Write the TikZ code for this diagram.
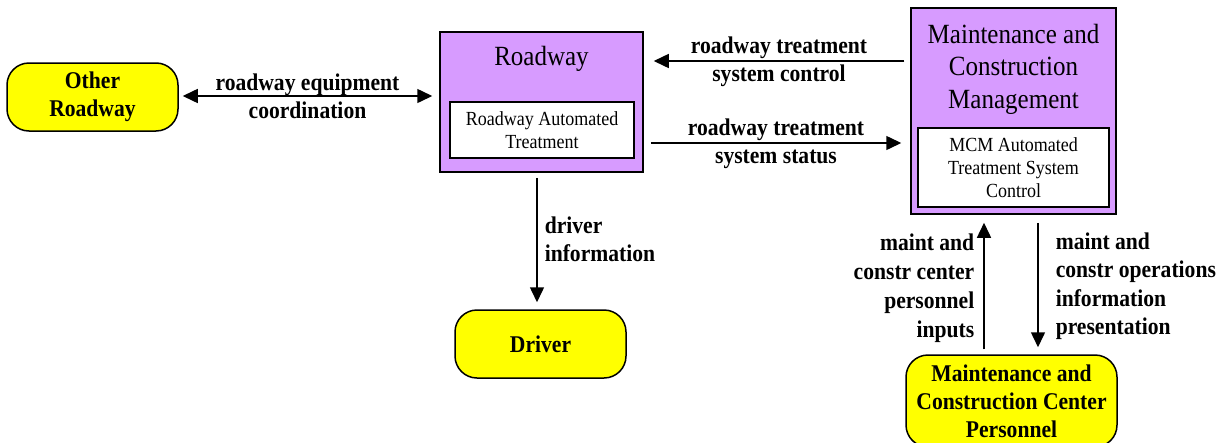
\documentclass[tikz,border=0pt]{standalone}
\usepackage{fontspec}
\setmainfont{Liberation Serif}[FakeStretch=0.9]
\usetikzlibrary{arrows.meta,calc}
\definecolor{elemPurple}{RGB}{215,155,255}
\definecolor{termYellow}{RGB}{255,255,0}
\tikzset{
  x=1pt, y=-1pt,
  lbl/.style={font=\fontsize{24}{28}\selectfont\bfseries, align=center, inner sep=0pt},
  terminator/.style={draw=black, line width=1.5pt, fill=termYellow, rounded corners=22pt,
    font=\fontsize{24}{28}\selectfont\bfseries, align=center, inner sep=0pt},
  element/.style={draw=black, line width=1.5pt, fill=elemPurple, inner sep=0pt},
  subbox/.style={draw=black, line width=1.2pt, fill=white, inner sep=0pt,
    font=\fontsize{20}{23}\selectfont, align=center},
  title/.style={font=\fontsize{27.8}{32.5}\selectfont, align=center, inner sep=0pt},
  flow/.style={line width=1.5pt, -{Triangle[length=15pt,width=14pt]}},
  biflow/.style={line width=1.5pt, {Triangle[length=15pt,width=14pt]}-{Triangle[length=15pt,width=14pt]}}
}
\begin{document}
\begin{tikzpicture}
\useasboundingbox (0,0) rectangle (1228,442);
% terminators
\node[terminator, minimum width=171pt, minimum height=68pt] (other) at (92.5,97) {Other\\Roadway};
\node[terminator, minimum width=171pt, minimum height=68pt] (driver) at (540.5,344) {Driver};
\node[terminator, minimum width=211pt, minimum height=92pt] (mccp) at (1011.5,401) {Maintenance and\\Construction Center\\Personnel};
% roadway element
\node[element, minimum width=203pt, minimum height=140pt] (road) at (541.5,102) {};
\node[title] (roadT) at (541.5,59) {Roadway};
\node[subbox, minimum width=184pt, minimum height=56pt] (roadS) at (542,130) {Roadway Automated\\Treatment};
% MCM element
\node[element, minimum width=205pt, minimum height=206pt] (mcm) at (1013.5,111) {};
\node[title] (mcmT) at (1013.5,69) {Maintenance and\\Construction\\Management};
\node[subbox, minimum width=191pt, minimum height=79pt] (mcmS) at (1013.5,167.5) {MCM Automated\\Treatment System\\Control};
% helper rows
\coordinate (rowEq) at (0,96);
\coordinate (rowCtl) at (0,61);
\coordinate (rowSt) at (0,143);
\coordinate (colDrv) at (537,0);
\coordinate (colUp) at (984,0);
\coordinate (colDn) at (1038,0);
% flows
\draw[biflow] ([xshift=4pt]other.east |- rowEq) -- node[lbl] {roadway equipment\\coordination} ([xshift=-7pt]road.west |- rowEq);
\draw[flow] ([xshift=-6pt]mcm.west |- rowCtl) -- node[lbl, yshift=-1pt] {roadway treatment\\system control} ([xshift=10pt]road.east |- rowCtl);
\draw[flow] ([xshift=7pt]road.east |- rowSt) -- node[lbl, yshift=-1pt] {roadway treatment\\system status} ([xshift=-9pt]mcm.west |- rowSt);
\draw[flow] ([yshift=-5pt]colDrv |- road.south) -- node[lbl, anchor=west, align=left, xshift=7pt, yshift=1pt] {driver\\information} ([yshift=7pt]colDrv |- driver.north);
\draw[flow] ([yshift=5pt]colUp |- mccp.north) -- node[lbl, anchor=east, align=right, xshift=-9pt, yshift=-2pt, font=\fontsize{24}{29}\selectfont\bfseries] {maint and\\constr center\\personnel\\inputs} ([yshift=-8pt]colUp |- mcm.south);
\draw[flow] ([yshift=-8pt]colDn |- mcm.south) -- node[lbl, anchor=west, align=left, xshift=17pt, yshift=-1pt, font=\fontsize{24}{28.5}\selectfont\bfseries] {maint and\\constr operations\\information\\presentation} ([yshift=7pt]colDn |- mccp.north);
\end{tikzpicture}
\end{document}
